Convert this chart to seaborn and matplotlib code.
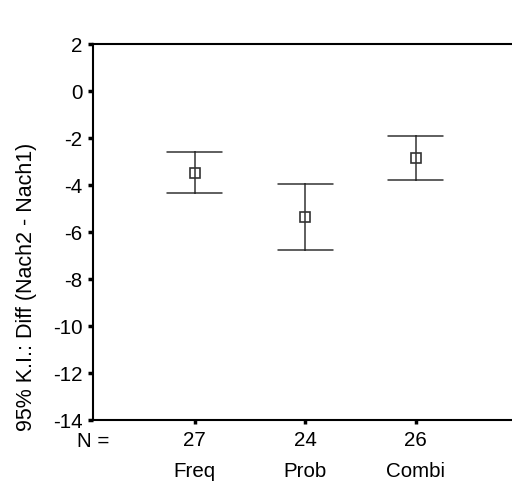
import pandas as pd
import numpy as np
import matplotlib.pyplot as plt
import seaborn as sns

# Gruppen, Fallzahlen und 95%-Konfidenzintervalle
groups = ["Freq", "Prob", "Combi"]
n_values = [27, 24, 26]
means = [-3.47, -5.37, -2.87]
ci_low = [-4.33, -6.77, -3.80]
ci_high = [-2.58, -3.97, -1.93]

# je Gruppe drei Werte: unten, Mittel, oben -> Median = Mittelwert, Spannweite = KI
df = pd.DataFrame({
    "group": np.repeat(groups, 3),
    "value": np.ravel(np.column_stack([ci_low, means, ci_high])),
})

sns.set_style("ticks")
plt.rcParams["font.family"] = ["Liberation Sans", "DejaVu Sans"]
plt.rcParams["axes.unicode_minus"] = False
plt.rcParams["text.color"] = "black"
plt.rcParams["axes.labelcolor"] = "black"
plt.rcParams["xtick.color"] = "black"
plt.rcParams["ytick.color"] = "black"

fs = 14.8

fig = plt.figure(figsize=(5.12, 4.83), dpi=100)
ax = fig.add_axes([0.1816, 0.1304, 0.8184, 0.7785])

sns.pointplot(data=df, x="group", y="value", order=groups,
              estimator="median", errorbar=("pi", 100),
              capsize=0.5, color="#333333", linestyle="none",
              marker="s", markersize=6.5, markerfacecolor="white",
              markeredgewidth=1.2, err_kws={"linewidth": 1.1}, ax=ax)

ax.set_ylim(-14, 2)
ax.set_yticks(range(-14, 3, 2))
ax.set_xlim(-0.92, 2.87)
ax.set_xticks(range(len(groups)))
ax.set_xticklabels([str(n) for n in n_values])
ax.set_xlabel("")
ax.set_ylabel("95% K.I.: Diff (Nach2 - Nach1)", fontsize=15.5)
ax.yaxis.set_label_coords(-0.134, 0.354)

ax.tick_params(axis="y", length=3.5, width=2.5, labelsize=fs, pad=4)
ax.tick_params(axis="x", length=3, width=2.5, labelsize=fs, pad=5)

for s in ["left", "top", "bottom"]:
    ax.spines[s].set_linewidth(1.5)
    ax.spines[s].set_color("black")
ax.spines["right"].set_visible(False)

ax.text(-0.0, -0.057, "N =", transform=ax.transAxes, ha="center", va="center", fontsize=fs)
for i, g in enumerate(groups):
    ax.text(i, -0.137, g, transform=ax.get_xaxis_transform(),
            ha="center", va="center", fontsize=fs)

fig.savefig("out.png", dpi=100)
